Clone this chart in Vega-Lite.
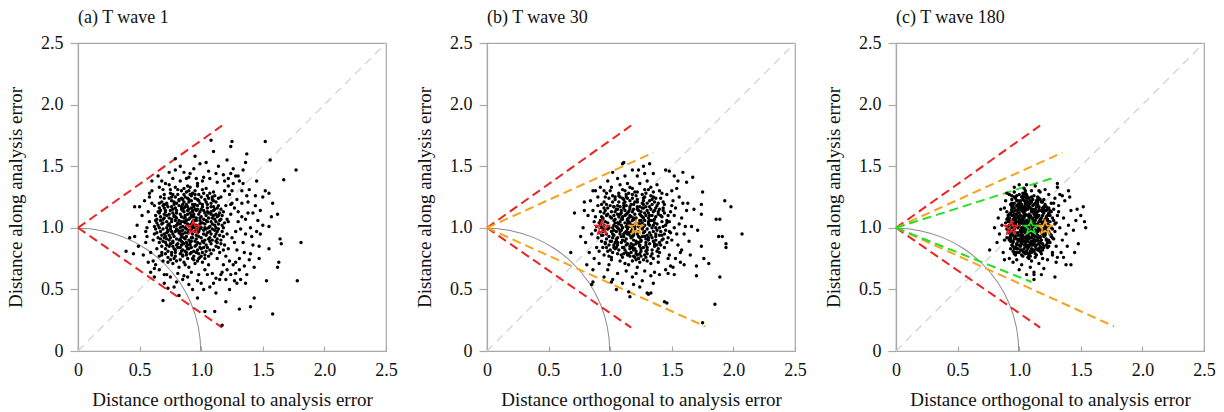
{
"$schema":"https://vega.github.io/schema/vega-lite/v6.json",
"background":"white",
"padding":{"left":5,"top":8,"right":5,"bottom":0},
"spacing":101,
"bounds":"flush",
"config":{
 "view":{"stroke":"#a8a8a8","strokeWidth":1.2},
 "axis":{"domainColor":"#a8a8a8","domainWidth":1.2,"tickColor":"#a8a8a8","tickWidth":1.2,"labelFont":"Liberation Serif","labelFontSize":18,"labelColor":"#111","titleFont":"Liberation Serif","titleFontSize":19,"titleFontWeight":"normal","titleColor":"#111","grid":false,"labelFlush":false,"labelOverlap":false},
 "axisX":{"tickSize":-5,"labelPadding":15,"titlePadding":11},
 "axisY":{"tickSize":8,"labelPadding":7,"titlePadding":15},
 "title":{"font":"Liberation Serif","fontSize":18,"fontWeight":"normal","anchor":"start","frame":"group","offset":7,"color":"#111"}
},
"datasets":{
 "guides":[{"kind":"diagonal","x":0,"y":0,"x2":2.5,"y2":2.5},{"kind":"circle","x":0,"y":0,"r":1,"r2":0.992}],
 "bounds":[
  {"panel":"a","wave":"wave 1","x":0,"y":1,"x2":1.17,"y2":1.83},
  {"panel":"a","wave":"wave 1","x":0,"y":1,"x2":1.17,"y2":0.19},
  {"panel":"b","wave":"wave 1","x":0,"y":1,"x2":1.17,"y2":1.83},
  {"panel":"b","wave":"wave 1","x":0,"y":1,"x2":1.17,"y2":0.19},
  {"panel":"b","wave":"wave 30","x":0,"y":1,"x2":1.35,"y2":1.61},
  {"panel":"b","wave":"wave 30","x":0,"y":1,"x2":1.77,"y2":0.2},
  {"panel":"c","wave":"wave 1","x":0,"y":1,"x2":1.17,"y2":1.83},
  {"panel":"c","wave":"wave 1","x":0,"y":1,"x2":1.17,"y2":0.19},
  {"panel":"c","wave":"wave 30","x":0,"y":1,"x2":1.35,"y2":1.61},
  {"panel":"c","wave":"wave 30","x":0,"y":1,"x2":1.77,"y2":0.2},
  {"panel":"c","wave":"wave 180","x":0,"y":1,"x2":1.29,"y2":1.41},
  {"panel":"c","wave":"wave 180","x":0,"y":1,"x2":1.1,"y2":0.56}
 ],
 "stars":[
  {"panel":"a","wave":"wave 1","x":0.935,"y":1},
  {"panel":"b","wave":"wave 1","x":0.935,"y":1},
  {"panel":"b","wave":"wave 30","x":1.21,"y":1},
  {"panel":"c","wave":"wave 1","x":0.935,"y":1},
  {"panel":"c","wave":"wave 180","x":1.095,"y":1},
  {"panel":"c","wave":"wave 30","x":1.21,"y":1}
 ],
 "pa":[
{"x":0.91,"y":1.02},{"x":0.85,"y":0.95},{"x":0.78,"y":1.10},{"x":1.02,"y":0.88},{"x":0.95,"y":1.15},{"x":0.70,"y":0.92},{"x":0.88,"y":0.80},{"x":1.08,"y":1.05},{"x":0.82,"y":1.22},{"x":0.97,"y":0.73},
{"x":0.74,"y":1.03},{"x":1.12,"y":0.95},{"x":0.93,"y":1.28},{"x":0.66,"y":1.12},{"x":1.05,"y":1.19},{"x":0.80,"y":0.86},{"x":0.99,"y":0.99},{"x":0.87,"y":1.08},{"x":0.76,"y":0.78},{"x":1.15,"y":1.12},
{"x":0.90,"y":0.68},{"x":0.69,"y":0.99},{"x":1.01,"y":1.31},{"x":0.84,"y":1.15},{"x":1.10,"y":0.82},{"x":0.72,"y":1.20},{"x":0.96,"y":0.91},{"x":0.79,"y":0.97},{"x":1.18,"y":1.00},{"x":0.86,"y":0.72},
{"x":0.63,"y":1.06},{"x":1.04,"y":1.10},{"x":0.92,"y":0.84},{"x":0.75,"y":1.28},{"x":1.13,"y":0.75},{"x":0.81,"y":1.03},{"x":0.98,"y":1.22},{"x":0.68,"y":0.85},{"x":1.07,"y":0.92},{"x":0.89,"y":1.17},
{"x":0.77,"y":0.89},{"x":1.20,"y":1.18},{"x":0.94,"y":0.77},{"x":0.71,"y":1.14},{"x":1.03,"y":1.00},{"x":0.83,"y":0.79},{"x":0.96,"y":1.06},{"x":0.64,"y":0.96},{"x":1.11,"y":1.26},{"x":0.88,"y":0.93},
{"x":0.73,"y":0.72},{"x":1.00,"y":0.83},{"x":0.79,"y":1.33},{"x":1.16,"y":0.90},{"x":0.91,"y":1.12},{"x":0.67,"y":1.25},{"x":1.06,"y":0.70},{"x":0.85,"y":1.01},{"x":0.97,"y":1.36},{"x":0.74,"y":0.94},
{"x":1.09,"y":1.08},{"x":0.82,"y":0.68},{"x":0.95,"y":0.97},{"x":0.70,"y":1.08},{"x":1.14,"y":1.03},{"x":0.87,"y":1.25},{"x":0.78,"y":0.83},{"x":1.02,"y":1.14},{"x":0.92,"y":0.89},{"x":0.61,"y":0.90},
{"x":1.19,"y":0.86},{"x":0.84,"y":1.09},{"x":0.99,"y":0.76},{"x":0.76,"y":1.17},{"x":1.05,"y":0.96},{"x":0.89,"y":1.34},{"x":0.66,"y":0.77},{"x":1.12,"y":1.21},{"x":0.93,"y":1.05},{"x":0.80,"y":0.91},
{"x":1.00,"y":1.25},{"x":0.72,"y":1.00},{"x":1.08,"y":0.79},{"x":0.86,"y":0.87},{"x":0.97,"y":1.18},{"x":0.69,"y":1.31},{"x":1.17,"y":0.97},{"x":0.83,"y":0.74},{"x":0.94,"y":1.09},{"x":0.75,"y":0.87},
{"x":1.04,"y":0.86},{"x":0.90,"y":1.21},{"x":0.65,"y":1.02},{"x":1.10,"y":1.14},{"x":0.81,"y":1.27},{"x":0.98,"y":0.93},{"x":0.73,"y":0.81},{"x":1.13,"y":1.09},{"x":0.88,"y":0.99},{"x":0.77,"y":1.12},
{"x":1.01,"y":0.72},{"x":0.92,"y":1.16},{"x":0.68,"y":0.94},{"x":1.07,"y":1.28},{"x":0.85,"y":0.82},{"x":0.96,"y":1.02},{"x":0.62,"y":1.18},{"x":1.15,"y":0.80},{"x":0.79,"y":1.06},{"x":1.03,"y":1.23},
{"x":0.91,"y":0.79},{"x":0.74,"y":1.24},{"x":1.09,"y":0.99},{"x":0.86,"y":1.13},{"x":0.99,"y":0.87},{"x":0.71,"y":0.88},{"x":1.21,"y":1.07},{"x":0.82,"y":0.96},{"x":0.95,"y":1.30},{"x":0.67,"y":1.09},
{"x":1.06,"y":0.91},{"x":0.89,"y":0.75},{"x":0.78,"y":1.19},{"x":1.11,"y":1.02},{"x":0.93,"y":0.95},{"x":0.64,"y":0.83},{"x":1.00,"y":1.09},{"x":0.84,"y":1.30},{"x":0.76,"y":0.97},{"x":1.14,"y":1.24},
{"x":0.97,"y":0.82},{"x":0.70,"y":1.16},{"x":1.05,"y":1.05},{"x":0.87,"y":0.91},{"x":0.80,"y":1.14},{"x":1.18,"y":0.93},{"x":0.92,"y":1.26},{"x":0.73,"y":0.76},{"x":1.02,"y":0.98},{"x":0.85,"y":1.19},
{"x":0.98,"y":1.11},{"x":0.66,"y":1.00},{"x":1.08,"y":0.87},{"x":0.90,"y":1.07},{"x":0.77,"y":0.71},{"x":1.16,"y":1.15},{"x":0.83,"y":1.00},{"x":0.95,"y":0.71},{"x":0.72,"y":1.10},{"x":1.04,"y":1.32},
{"x":0.88,"y":0.85},{"x":0.79,"y":1.25},{"x":1.12,"y":0.89},{"x":0.94,"y":1.00},{"x":0.68,"y":1.21},{"x":1.01,"y":0.80},{"x":0.86,"y":1.05},{"x":0.97,"y":0.96},{"x":0.75,"y":0.92},{"x":1.10,"y":1.17},
{"x":0.81,"y":0.84},{"x":0.91,"y":1.33},{"x":0.63,"y":0.99},{"x":1.07,"y":1.01},{"x":0.84,"y":0.93},{"x":0.99,"y":1.20},{"x":0.71,"y":0.79},{"x":1.13,"y":0.97},{"x":0.89,"y":1.11},{"x":0.78,"y":1.01},
{"x":1.03,"y":0.75},{"x":0.93,"y":1.14},{"x":0.69,"y":1.04},{"x":1.17,"y":1.10},{"x":0.82,"y":1.18},{"x":0.96,"y":0.86},{"x":0.74,"y":1.35},{"x":1.06,"y":1.12},{"x":0.87,"y":0.70},{"x":0.80,"y":0.99},
{"x":1.09,"y":1.23},{"x":0.92,"y":0.92},{"x":0.65,"y":1.13},{"x":1.00,"y":1.04},{"x":0.85,"y":0.77},{"x":0.98,"y":1.27},{"x":0.76,"y":1.07},{"x":1.14,"y":0.84},{"x":0.90,"y":0.98},{"x":0.72,"y":0.86},
{"x":1.05,"y":1.16},{"x":0.83,"y":1.11},{"x":0.94,"y":0.81},{"x":0.67,"y":0.91},{"x":1.19,"y":1.04},{"x":0.88,"y":1.29},{"x":0.79,"y":0.80},{"x":1.02,"y":1.07},{"x":0.91,"y":0.88},{"x":0.70,"y":1.27},
{"x":1.11,"y":0.93},{"x":0.86,"y":1.16},{"x":0.97,"y":1.01},{"x":0.75,"y":0.74},{"x":1.08,"y":1.20},{"x":0.82,"y":0.90},{"x":0.95,"y":1.24},{"x":0.64,"y":1.07},{"x":1.04,"y":0.94},{"x":0.89,"y":0.83},
{"x":0.77,"y":1.15},{"x":1.15,"y":1.06},{"x":0.93,"y":1.19},{"x":0.73,"y":0.98},{"x":1.01,"y":0.89},{"x":0.84,"y":1.24},{"x":0.99,"y":1.13},{"x":0.68,"y":0.80},{"x":1.12,"y":1.11},{"x":0.87,"y":0.96},
{"x":0.80,"y":1.20},{"x":1.06,"y":0.77},{"x":0.92,"y":1.03},{"x":0.71,"y":0.93},{"x":1.10,"y":1.29},{"x":0.85,"y":0.88},{"x":0.96,"y":1.14},{"x":0.78,"y":0.75},{"x":1.03,"y":1.03},{"x":0.90,"y":1.23},
{"x":0.66,"y":1.16},{"x":1.18,"y":0.82},{"x":0.81,"y":1.04},{"x":0.95,"y":0.85},{"x":0.74,"y":1.11},{"x":1.07,"y":0.97},{"x":0.88,"y":1.06},{"x":0.97,"y":1.34},{"x":0.69,"y":0.73},{"x":1.13,"y":1.16},
{"x":0.83,"y":0.97},{"x":0.94,"y":0.74},{"x":0.76,"y":1.22},{"x":1.00,"y":1.15},{"x":0.87,"y":0.81},{"x":1.09,"y":0.90},{"x":0.79,"y":1.09},{"x":0.93,"y":1.01},{"x":0.62,"y":0.95},{"x":1.16,"y":1.25},
{"x":0.85,"y":1.23},{"x":0.98,"y":0.79},{"x":0.72,"y":1.05},{"x":1.05,"y":1.26},{"x":0.90,"y":0.90},{"x":0.80,"y":0.73},{"x":1.11,"y":1.07},{"x":0.86,"y":1.32},{"x":0.96,"y":0.99},{"x":0.70,"y":1.19},
{"x":1.02,"y":0.84},{"x":0.89,"y":1.14},{"x":0.77,"y":0.85},{"x":1.14,"y":0.99},{"x":0.92,"y":1.10},{"x":0.67,"y":1.06},{"x":1.08,"y":1.13},{"x":0.84,"y":0.86},{"x":0.99,"y":1.03},{"x":0.75,"y":1.31},
{"x":1.04,"y":0.81},{"x":0.91,"y":1.27},
{"x":0.87,"y":1.04},{"x":0.81,"y":0.98},{"x":0.93,"y":0.92},{"x":0.76,"y":1.05},{"x":0.99,"y":1.08},{"x":0.84,"y":0.89},{"x":0.72,"y":0.96},{"x":1.06,"y":1.00},{"x":0.90,"y":1.15},{"x":0.79,"y":0.82},
{"x":0.95,"y":1.19},{"x":0.68,"y":1.03},{"x":1.03,"y":0.90},{"x":0.86,"y":1.21},{"x":0.74,"y":0.90},{"x":1.10,"y":1.10},{"x":0.92,"y":0.80},{"x":0.80,"y":1.12},{"x":0.97,"y":0.88},{"x":0.70,"y":1.11},
{"x":1.01,"y":1.17},{"x":0.83,"y":0.84},{"x":0.89,"y":1.03},{"x":0.77,"y":1.27},{"x":1.12,"y":0.85},{"x":0.94,"y":1.11},{"x":0.66,"y":0.88},{"x":1.04,"y":1.21},{"x":0.85,"y":0.78},{"x":0.91,"y":0.97},
{"x":0.73,"y":1.17},{"x":1.08,"y":0.95},{"x":0.82,"y":1.06},{"x":0.98,"y":0.75},{"x":0.69,"y":1.18},{"x":1.14,"y":1.18},{"x":0.88,"y":0.88},{"x":0.75,"y":0.99},{"x":1.00,"y":1.00},{"x":0.86,"y":1.27},
{"x":0.63,"y":1.10},{"x":1.07,"y":0.82},{"x":0.94,"y":1.03},{"x":0.78,"y":0.93},{"x":1.16,"y":1.07},{"x":0.90,"y":1.30},{"x":0.71,"y":0.83},{"x":1.02,"y":0.95},{"x":0.84,"y":1.17},{"x":0.97,"y":1.23},
{"x":0.67,"y":0.97},{"x":1.11,"y":0.98},{"x":0.89,"y":0.86},{"x":0.79,"y":1.16},{"x":1.05,"y":1.13},{"x":0.93,"y":0.75},{"x":0.74,"y":1.08},{"x":1.09,"y":1.25},{"x":0.83,"y":1.03},{"x":0.96,"y":0.94},
{"x":0.70,"y":1.24},{"x":1.13,"y":0.91},{"x":0.87,"y":1.10},{"x":0.76,"y":0.80},{"x":1.01,"y":1.04},{"x":0.92,"y":1.22},{"x":0.65,"y":0.92},{"x":1.18,"y":1.13},{"x":0.80,"y":1.08},{"x":0.99,"y":0.84},
{"x":0.73,"y":1.02},{"x":1.06,"y":1.08},{"x":0.85,"y":0.98},{"x":0.95,"y":1.27},{"x":0.68,"y":0.78},{"x":1.12,"y":1.05},{"x":0.88,"y":1.19},{"x":0.77,"y":0.95},{"x":1.03,"y":0.78},{"x":0.91,"y":1.08},
{"x":0.71,"y":1.13},{"x":1.15,"y":0.94},{"x":0.82,"y":1.23},{"x":0.98,"y":1.01},{"x":0.64,"y":1.04},{"x":1.08,"y":1.17},{"x":0.86,"y":0.92},{"x":0.78,"y":1.21},{"x":1.00,"y":0.92},{"x":0.93,"y":1.13},
{"x":0.72,"y":0.91},{"x":1.10,"y":1.22},{"x":0.84,"y":0.81},{"x":0.96,"y":1.08},{"x":0.69,"y":1.07},{"x":1.13,"y":0.88},{"x":0.89,"y":0.96},{"x":0.75,"y":1.14},{"x":1.04,"y":1.06},{"x":0.90,"y":0.83},
{"x":0.81,"y":1.31},{"x":1.07,"y":0.89},{"x":0.94,"y":1.17},{"x":0.66,"y":1.20},{"x":1.17,"y":1.02},{"x":0.83,"y":0.91},{"x":0.97,"y":1.15},{"x":0.74,"y":0.85},{"x":1.02,"y":1.28},{"x":0.87,"y":1.00},
{"x":0.79,"y":0.77},{"x":1.11,"y":1.15},{"x":0.92,"y":0.99},{"x":0.70,"y":0.95},{"x":1.05,"y":0.84},{"x":0.85,"y":1.14},{"x":0.99,"y":1.06},{"x":0.76,"y":1.25},{"x":1.14,"y":1.10},{"x":0.88,"y":0.78},
{"x":0.80,"y":1.02},{"x":1.03,"y":1.12},{"x":0.95,"y":0.89},{"x":0.67,"y":1.14},{"x":1.09,"y":1.03},{"x":0.86,"y":1.08},{"x":0.73,"y":0.97},{"x":1.01,"y":1.19},{"x":0.91,"y":0.86},{"x":0.78,"y":1.09},
{"x":1.16,"y":0.87},{"x":0.94,"y":1.06},{"x":0.62,"y":1.01},{"x":1.06,"y":1.24},{"x":0.83,"y":0.95},{"x":0.98,"y":0.97},{"x":0.72,"y":1.19},{"x":1.12,"y":1.00},{"x":0.89,"y":1.24},{"x":0.77,"y":0.88},
{"x":1.00,"y":0.77},{"x":0.93,"y":1.09},{"x":0.69,"y":0.89},{"x":1.08,"y":1.11},{"x":0.84,"y":1.05},{"x":0.96,"y":0.80},{"x":0.75,"y":1.01},{"x":1.04,"y":0.99},{"x":0.87,"y":1.17},{"x":0.81,"y":0.87},
{"x":1.22,"y":1.05},{"x":1.25,"y":0.92},{"x":1.20,"y":0.77},{"x":1.27,"y":1.16},{"x":1.23,"y":1.27},{"x":1.29,"y":0.82},{"x":1.21,"y":0.66},{"x":1.26,"y":1.36},{"x":1.32,"y":0.99},{"x":1.30,"y":1.13},
{"x":1.34,"y":0.88},{"x":1.28,"y":0.63},{"x":1.33,"y":1.30},{"x":1.36,"y":1.07},{"x":1.31,"y":0.75},{"x":1.38,"y":1.21},{"x":1.35,"y":0.69},{"x":1.41,"y":0.93},{"x":1.24,"y":1.44},{"x":1.39,"y":1.31},
{"x":1.27,"y":0.57},{"x":1.42,"y":1.12},{"x":1.37,"y":0.62},{"x":1.20,"y":0.58},{"x":1.45,"y":0.97},{"x":1.22,"y":1.34},{"x":1.29,"y":1.23},{"x":1.34,"y":1.47},{"x":1.26,"y":0.70},{"x":1.40,"y":0.79},
{"x":1.44,"y":1.26},{"x":1.31,"y":1.38},{"x":1.48,"y":1.14},{"x":1.36,"y":0.55},{"x":1.23,"y":0.73},{"x":1.47,"y":0.85},{"x":1.33,"y":1.09},{"x":1.50,"y":1.02},{"x":1.28,"y":1.42},{"x":1.21,"y":0.95},
{"x":1.24,"y":1.19},{"x":1.19,"y":1.30},{"x":1.18,"y":0.70},{"x":1.19,"y":1.38},{"x":1.16,"y":0.62},
{"x":0.58,"y":1.05},{"x":0.56,"y":0.93},{"x":0.60,"y":1.20},{"x":0.59,"y":0.80},{"x":0.57,"y":1.13},{"x":0.61,"y":0.73},{"x":0.55,"y":0.97},{"x":0.60,"y":1.30},{"x":0.62,"y":0.67},{"x":0.58,"y":1.25},
{"x":0.66,"y":0.66},{"x":0.70,"y":0.62},{"x":0.75,"y":0.60},{"x":0.81,"y":0.63},{"x":0.86,"y":0.61},{"x":0.92,"y":0.64},{"x":0.98,"y":0.62},{"x":1.03,"y":0.66},{"x":1.09,"y":0.63},{"x":1.12,"y":0.59},
{"x":0.71,"y":1.36},{"x":0.77,"y":1.40},{"x":0.83,"y":1.38},{"x":0.90,"y":1.41},{"x":0.96,"y":1.40},{"x":1.01,"y":1.38},{"x":1.07,"y":1.40},{"x":1.13,"y":1.37},{"x":0.79,"y":1.47},{"x":0.94,"y":1.48},
{"x":1.04,"y":1.53},{"x":1.12,"y":1.44},{"x":0.66,"y":1.33},{"x":0.86,"y":1.45},{"x":0.97,"y":0.57},{"x":0.80,"y":0.56},{"x":0.90,"y":0.54},{"x":1.10,"y":0.55},{"x":1.02,"y":0.50},{"x":0.73,"y":0.51},
{"x":0.52,"y":1.10},{"x":0.55,"y":0.88},{"x":0.48,"y":1.02},{"x":0.58,"y":1.28},{"x":0.57,"y":0.72},{"x":0.60,"y":1.38},{"x":0.53,"y":0.78},{"x":0.59,"y":0.64},{"x":0.50,"y":1.17},{"x":0.56,"y":1.00},
{"x":0.46,"y":0.93},{"x":0.62,"y":0.60},{"x":0.65,"y":1.42},{"x":0.54,"y":1.22},{"x":0.49,"y":0.85},
{"x":1.25,"y":1.30},{"x":1.28,"y":0.72},{"x":1.30,"y":1.05},{"x":1.24,"y":0.62},{"x":1.33,"y":1.20},{"x":1.27,"y":0.88},{"x":1.36,"y":0.95},{"x":1.22,"y":1.40},{"x":1.31,"y":0.66},{"x":1.38,"y":1.12},
{"x":1.26,"y":1.48},{"x":1.35,"y":0.80},{"x":1.29,"y":0.55},{"x":1.40,"y":1.00},{"x":1.23,"y":0.50},{"x":1.34,"y":1.36},{"x":1.42,"y":0.86},{"x":1.37,"y":1.26},{"x":1.44,"y":1.18},{"x":1.32,"y":0.58},
{"x":1.39,"y":0.74},{"x":1.21,"y":1.55},{"x":1.46,"y":1.06},{"x":1.30,"y":1.42},{"x":1.43,"y":0.68},{"x":1.25,"y":1.20},{"x":1.28,"y":0.97},{"x":1.22,"y":0.83},{"x":1.24,"y":1.11},
{"x":0.70,"y":0.55},{"x":0.78,"y":0.52},{"x":0.85,"y":0.58},{"x":0.93,"y":0.50},{"x":1.00,"y":0.55},{"x":1.07,"y":0.52},{"x":1.15,"y":0.58},{"x":0.82,"y":0.45},{"x":0.97,"y":0.43},{"x":1.12,"y":0.47},
{"x":0.74,"y":1.45},{"x":0.83,"y":1.50},{"x":0.91,"y":1.44},{"x":0.99,"y":1.52},{"x":1.06,"y":1.46},{"x":1.14,"y":1.50},{"x":0.79,"y":1.56},{"x":0.95,"y":1.58},{"x":1.10,"y":1.62},{"x":0.88,"y":1.40},
{"x":1.02,"y":1.41},{"x":1.18,"y":1.43},{"x":0.68,"y":1.38},{"x":0.72,"y":0.62},{"x":0.89,"y":0.60},{"x":1.05,"y":0.62},{"x":1.17,"y":0.64},{"x":0.63,"y":0.70},
{"x":1.81,"y":0.88},{"x":1.77,"y":1.47},{"x":1.78,"y":0.57},{"x":1.67,"y":1.39},{"x":1.58,"y":0.30},{"x":1.52,"y":1.70},{"x":1.56,"y":1.55},{"x":1.62,"y":1.11},{"x":1.64,"y":0.91},{"x":1.65,"y":0.87},
{"x":1.62,"y":0.68},{"x":1.63,"y":0.72},{"x":1.55,"y":1.01},{"x":1.57,"y":1.09},{"x":1.55,"y":0.83},{"x":1.53,"y":0.57},{"x":1.43,"y":0.43},{"x":1.40,"y":0.36},{"x":1.31,"y":0.34},{"x":1.24,"y":1.66},
{"x":1.25,"y":1.70},{"x":1.37,"y":1.60},{"x":1.36,"y":1.53},{"x":1.11,"y":0.32},{"x":1.03,"y":0.32},{"x":0.69,"y":0.41},{"x":0.39,"y":0.81},{"x":0.45,"y":0.79},{"x":0.42,"y":0.92},{"x":0.46,"y":1.17},
{"x":1.08,"y":1.71},{"x":1.17,"y":0.21},{"x":1.50,"y":1.25},{"x":1.48,"y":0.95},{"x":1.52,"y":1.30},{"x":1.47,"y":0.75},{"x":1.58,"y":1.20},{"x":1.45,"y":1.38},{"x":1.20,"y":0.40},{"x":1.55,"y":1.28}
 ],
 "pb":[
{"x":1.18,"y":0.99},{"x":1.10,"y":1.07},{"x":1.25,"y":0.90},{"x":1.03,"y":0.94},{"x":1.31,"y":1.12},{"x":1.14,"y":0.78},{"x":0.97,"y":1.10},{"x":1.22,"y":1.21},{"x":1.36,"y":0.85},{"x":1.07,"y":1.26},
{"x":1.28,"y":1.02},{"x":0.93,"y":0.89},{"x":1.16,"y":1.15},{"x":1.40,"y":1.00},{"x":1.01,"y":0.74},{"x":1.20,"y":0.83},{"x":1.12,"y":1.30},{"x":1.34,"y":1.23},{"x":0.95,"y":1.02},{"x":1.24,"y":0.72},
{"x":1.08,"y":0.97},{"x":1.43,"y":1.14},{"x":1.19,"y":1.08},{"x":1.00,"y":1.18},{"x":1.30,"y":0.79},{"x":1.13,"y":0.91},{"x":1.37,"y":0.93},{"x":0.91,"y":0.96},{"x":1.26,"y":1.27},{"x":1.05,"y":0.84},
{"x":1.21,"y":1.04},{"x":1.46,"y":0.88},{"x":1.09,"y":1.14},{"x":1.33,"y":1.06},{"x":0.98,"y":0.81},{"x":1.15,"y":0.70},{"x":1.27,"y":1.16},{"x":1.04,"y":1.23},{"x":1.39,"y":0.77},{"x":1.17,"y":0.87},
{"x":0.94,"y":1.07},{"x":1.23,"y":0.97},{"x":1.11,"y":1.20},{"x":1.35,"y":1.29},{"x":1.02,"y":0.92},{"x":1.29,"y":0.86},{"x":1.14,"y":1.03},{"x":1.42,"y":1.05},{"x":0.96,"y":1.25},{"x":1.20,"y":0.76},
{"x":1.07,"y":1.09},{"x":1.32,"y":0.96},{"x":1.18,"y":1.32},{"x":0.99,"y":0.86},{"x":1.25,"y":1.10},{"x":1.12,"y":0.82},{"x":1.38,"y":1.18},{"x":1.06,"y":1.00},{"x":1.22,"y":0.68},{"x":0.92,"y":1.13},
{"x":1.30,"y":1.20},{"x":1.16,"y":0.94},{"x":1.44,"y":0.95},{"x":1.03,"y":1.06},{"x":1.27,"y":0.74},{"x":1.10,"y":1.24},{"x":1.35,"y":0.89},{"x":0.97,"y":0.95},{"x":1.19,"y":1.19},{"x":1.24,"y":0.85},
{"x":1.08,"y":0.73},{"x":1.41,"y":1.24},{"x":1.13,"y":1.11},{"x":1.00,"y":1.30},{"x":1.31,"y":1.03},{"x":1.17,"y":0.80},{"x":0.89,"y":1.01},{"x":1.26,"y":0.93},{"x":1.05,"y":1.15},{"x":1.37,"y":1.09},
{"x":1.21,"y":1.26},{"x":0.95,"y":0.78},{"x":1.15,"y":1.05},{"x":1.33,"y":0.71},{"x":1.09,"y":0.88},{"x":1.47,"y":1.10},{"x":1.02,"y":1.21},{"x":1.28,"y":1.31},{"x":1.12,"y":0.96},{"x":1.39,"y":0.83},
{"x":1.19,"y":0.90},{"x":0.93,"y":1.19},{"x":1.23,"y":1.14},{"x":1.06,"y":0.79},{"x":1.34,"y":1.00},{"x":1.16,"y":1.22},{"x":0.98,"y":1.04},{"x":1.29,"y":0.81},{"x":1.11,"y":1.16},{"x":1.43,"y":0.91},
{"x":1.04,"y":0.88},{"x":1.25,"y":1.06},{"x":1.18,"y":0.73},{"x":1.36,"y":1.21},{"x":0.90,"y":0.92},{"x":1.20,"y":1.11},{"x":1.07,"y":1.28},{"x":1.32,"y":0.87},{"x":1.14,"y":0.99},{"x":1.40,"y":1.15},
{"x":1.01,"y":0.97},{"x":1.27,"y":1.24},{"x":1.10,"y":0.76},{"x":1.45,"y":1.02},{"x":0.96,"y":1.14},{"x":1.22,"y":0.95},{"x":1.08,"y":1.05},{"x":1.35,"y":0.75},{"x":1.17,"y":1.09},{"x":0.94,"y":0.84},
{"x":1.30,"y":1.14},{"x":1.13,"y":1.27},{"x":1.38,"y":0.98},{"x":1.03,"y":1.10},{"x":1.24,"y":0.79},{"x":1.19,"y":1.02},{"x":0.99,"y":0.70},{"x":1.33,"y":1.26},{"x":1.11,"y":0.93},{"x":1.41,"y":0.86},
{"x":1.06,"y":1.18},{"x":1.26,"y":0.99},{"x":1.15,"y":1.13},{"x":0.92,"y":1.06},{"x":1.29,"y":0.91},{"x":1.21,"y":0.74},{"x":1.44,"y":1.19},{"x":1.05,"y":0.91},{"x":1.36,"y":1.04},{"x":1.12,"y":1.21},
{"x":0.97,"y":1.28},{"x":1.23,"y":0.88},{"x":1.09,"y":1.02},{"x":1.31,"y":1.08},{"x":1.18,"y":0.84},{"x":1.48,"y":0.97},{"x":1.02,"y":0.80},{"x":1.27,"y":1.19},{"x":1.14,"y":0.87},{"x":1.39,"y":1.11},
{"x":0.95,"y":0.99},{"x":1.20,"y":1.29},{"x":1.08,"y":0.95},{"x":1.34,"y":0.82},{"x":1.16,"y":1.17},{"x":1.00,"y":1.09},{"x":1.28,"y":0.97},{"x":1.12,"y":0.71},{"x":1.42,"y":1.28},{"x":1.04,"y":1.25},
{"x":1.25,"y":1.13},{"x":1.19,"y":0.96},{"x":0.91,"y":0.81},{"x":1.32,"y":1.17},{"x":1.10,"y":1.00},{"x":1.37,"y":0.90},{"x":1.06,"y":0.86},{"x":1.22,"y":1.17},{"x":1.46,"y":1.06},{"x":0.98,"y":1.16},
{"x":1.30,"y":0.73},{"x":1.15,"y":1.01},{"x":1.40,"y":0.80},{"x":1.03,"y":1.02},{"x":1.26,"y":1.09},{"x":1.13,"y":1.25},{"x":0.94,"y":0.94},{"x":1.21,"y":0.81},{"x":1.35,"y":1.13},{"x":1.09,"y":1.12},
{"x":1.44,"y":0.84},{"x":1.17,"y":0.92},{"x":1.01,"y":1.13},{"x":1.29,"y":1.28},{"x":1.11,"y":0.84},{"x":1.38,"y":1.03},{"x":1.23,"y":1.03},{"x":0.96,"y":0.88},{"x":1.07,"y":1.21},{"x":1.33,"y":0.94},
{"x":1.18,"y":1.24},{"x":1.49,"y":1.13},{"x":1.05,"y":0.97},{"x":1.27,"y":0.84},{"x":1.14,"y":1.07},{"x":0.88,"y":1.09},{"x":1.24,"y":0.92},{"x":1.41,"y":0.97},{"x":1.10,"y":0.90},{"x":1.31,"y":1.31},
{"x":1.20,"y":1.07},{"x":0.99,"y":0.77},{"x":1.36,"y":0.87},{"x":1.16,"y":0.77},{"x":1.03,"y":1.17},{"x":1.28,"y":1.06},{"x":1.12,"y":1.14},{"x":1.43,"y":1.21},{"x":0.93,"y":1.00},{"x":1.25,"y":0.77},
{"x":1.08,"y":1.11},{"x":1.34,"y":1.19},{"x":1.19,"y":0.86},{"x":1.01,"y":0.89},{"x":1.30,"y":0.99},{"x":1.15,"y":1.28},{"x":1.39,"y":0.72},{"x":1.06,"y":1.04},{"x":1.22,"y":1.23},{"x":0.97,"y":0.91},
{"x":1.47,"y":0.92},{"x":1.13,"y":0.80},{"x":1.32,"y":1.10},{"x":1.18,"y":1.13},{"x":1.04,"y":0.83},{"x":1.26,"y":1.00},{"x":1.10,"y":1.31},{"x":1.37,"y":1.16},{"x":0.95,"y":1.21},{"x":1.21,"y":0.89},
{"x":1.09,"y":0.98},{"x":1.42,"y":1.09},{"x":1.16,"y":1.04},{"x":1.29,"y":0.76},{"x":1.02,"y":1.00},{"x":1.35,"y":1.25},{"x":1.14,"y":0.95},{"x":1.24,"y":1.17},
{"x":1.17,"y":1.02},{"x":1.11,"y":0.95},{"x":1.24,"y":1.06},{"x":1.05,"y":1.01},{"x":1.30,"y":0.94},{"x":1.14,"y":1.12},{"x":0.99,"y":0.93},{"x":1.21,"y":0.87},{"x":1.35,"y":1.06},{"x":1.08,"y":1.17},
{"x":1.27,"y":1.08},{"x":0.96,"y":1.05},{"x":1.16,"y":0.85},{"x":1.40,"y":0.94},{"x":1.03,"y":0.86},{"x":1.22,"y":1.15},{"x":1.12,"y":1.04},{"x":1.33,"y":1.15},{"x":0.94,"y":0.97},{"x":1.25,"y":0.81},
{"x":1.09,"y":0.93},{"x":1.43,"y":1.01},{"x":1.19,"y":1.15},{"x":1.01,"y":1.08},{"x":1.29,"y":0.88},{"x":1.13,"y":0.97},{"x":1.37,"y":1.00},{"x":0.92,"y":1.02},{"x":1.26,"y":1.20},{"x":1.06,"y":0.92},
{"x":1.20,"y":0.99},{"x":1.45,"y":0.98},{"x":1.10,"y":1.09},{"x":1.32,"y":1.02},{"x":1.00,"y":0.89},{"x":1.15,"y":0.79},{"x":1.28,"y":1.12},{"x":1.04,"y":1.13},{"x":1.38,"y":0.86},{"x":1.18,"y":0.93},
{"x":0.95,"y":1.12},{"x":1.23,"y":1.01},{"x":1.11,"y":1.23},{"x":1.34,"y":1.10},{"x":1.03,"y":0.98},{"x":1.30,"y":0.84},{"x":1.15,"y":1.08},{"x":1.41,"y":1.10},{"x":0.97,"y":1.19},{"x":1.21,"y":0.79},
{"x":1.07,"y":1.03},{"x":1.31,"y":0.92},{"x":1.18,"y":1.27},{"x":1.00,"y":0.82},{"x":1.26,"y":1.04},{"x":1.13,"y":0.86},{"x":1.36,"y":1.14},{"x":1.07,"y":0.99},{"x":1.23,"y":0.75},{"x":0.93,"y":1.09},
{"x":1.29,"y":1.17},{"x":1.17,"y":0.97},{"x":1.42,"y":0.90},{"x":1.04,"y":1.04},{"x":1.28,"y":0.78},{"x":1.11,"y":1.18},{"x":1.34,"y":0.92},{"x":0.98,"y":0.99},{"x":1.20,"y":1.21},{"x":1.25,"y":0.89},
{"x":1.09,"y":0.78},{"x":1.39,"y":1.20},{"x":1.14,"y":1.06},{"x":1.02,"y":1.26},{"x":1.32,"y":1.06},{"x":1.16,"y":0.83},{"x":0.91,"y":1.04},{"x":1.27,"y":0.96},{"x":1.06,"y":1.11},{"x":1.36,"y":1.07},
{"x":1.22,"y":1.29},{"x":0.97,"y":0.84},{"x":1.16,"y":1.01},{"x":1.33,"y":0.77},{"x":1.10,"y":0.84},{"x":1.44,"y":1.12},{"x":1.03,"y":1.17},{"x":1.28,"y":1.25},{"x":1.13,"y":1.01},{"x":1.38,"y":0.81},
{"x":1.19,"y":0.94},{"x":0.95,"y":1.16},{"x":1.24,"y":1.11},{"x":1.07,"y":0.82},{"x":1.35,"y":0.97},{"x":1.17,"y":1.19},{"x":0.99,"y":1.00},{"x":1.30,"y":0.82},{"x":1.12,"y":1.10},{"x":1.42,"y":0.94},
{"x":1.05,"y":0.90},{"x":1.24,"y":1.03},{"x":1.19,"y":0.77},{"x":1.37,"y":1.24},{"x":0.93,"y":0.94},{"x":1.21,"y":1.08},{"x":1.08,"y":1.25},{"x":1.31,"y":0.90},{"x":1.15,"y":0.96},{"x":1.39,"y":1.13},
{"x":1.02,"y":0.95},{"x":1.26,"y":1.16},{"x":1.11,"y":0.79},{"x":1.46,"y":1.04},{"x":0.98,"y":1.11},{"x":1.23,"y":0.93},{"x":1.09,"y":1.07},{"x":1.34,"y":0.79},{"x":1.18,"y":1.06},{"x":0.96,"y":0.87},
{"x":1.29,"y":1.10},{"x":1.14,"y":1.24},{"x":1.37,"y":0.95},{"x":1.04,"y":1.07},{"x":1.25,"y":0.83},{"x":1.20,"y":1.01},{"x":1.01,"y":0.76},{"x":1.32,"y":1.22},{"x":1.12,"y":0.89},{"x":1.40,"y":0.88},
{"x":1.06,"y":1.15},{"x":1.27,"y":1.01},{"x":1.16,"y":1.10},{"x":0.94,"y":1.08},{"x":1.28,"y":0.93},{"x":1.22,"y":0.78},{"x":1.43,"y":1.16},{"x":1.06,"y":0.88},{"x":1.35,"y":1.02},{"x":1.13,"y":1.18},
{"x":0.99,"y":1.24},{"x":1.24,"y":0.86},{"x":1.10,"y":1.00},{"x":1.31,"y":1.05},{"x":1.19,"y":0.82},{"x":1.03,"y":0.84},{"x":1.27,"y":1.22},
{"x":1.50,"y":0.90},{"x":1.52,"y":1.10},{"x":1.48,"y":0.78},{"x":1.51,"y":1.22},{"x":1.54,"y":0.95},{"x":1.49,"y":0.69},{"x":1.56,"y":1.03},{"x":1.53,"y":1.16},{"x":1.58,"y":0.82},{"x":1.50,"y":1.30},
{"x":1.47,"y":0.63},{"x":1.61,"y":1.01},{"x":1.57,"y":0.72},{"x":1.52,"y":1.42},{"x":1.63,"y":1.20},{"x":1.48,"y":1.05},{"x":1.49,"y":0.96},{"x":1.46,"y":1.27},{"x":1.47,"y":0.75},
{"x":0.88,"y":0.98},{"x":0.90,"y":1.18},{"x":0.89,"y":0.84},{"x":0.87,"y":1.05},{"x":0.91,"y":0.71},{"x":0.86,"y":1.14},{"x":0.90,"y":1.25},
{"x":0.98,"y":0.66},{"x":1.06,"y":0.63},{"x":1.13,"y":0.65},{"x":1.21,"y":0.63},{"x":1.28,"y":0.65},{"x":1.36,"y":0.64},{"x":1.01,"y":0.56},{"x":1.19,"y":0.54},{"x":1.35,"y":0.55},
{"x":1.01,"y":1.33},{"x":1.08,"y":1.35},{"x":1.16,"y":1.33},{"x":1.24,"y":1.36},{"x":1.33,"y":1.33},{"x":1.40,"y":1.30},{"x":1.12,"y":1.42},{"x":1.28,"y":1.44},{"x":0.95,"y":1.30},
{"x":0.85,"y":0.95},{"x":0.82,"y":1.10},{"x":0.87,"y":0.75},{"x":0.80,"y":0.88},{"x":0.84,"y":1.22},{"x":0.78,"y":1.00},{"x":0.86,"y":0.66},{"x":0.79,"y":1.14},{"x":0.83,"y":0.80},{"x":0.88,"y":1.30},
{"x":0.81,"y":0.70},{"x":0.76,"y":0.93},
{"x":1.52,"y":1.00},{"x":1.55,"y":0.86},{"x":1.50,"y":1.18},{"x":1.58,"y":1.08},{"x":1.53,"y":0.75},{"x":1.56,"y":1.25},{"x":1.51,"y":0.68},{"x":1.60,"y":0.95},{"x":1.54,"y":1.32},{"x":1.62,"y":1.14},
{"x":1.57,"y":0.80},{"x":1.64,"y":0.89},{"x":1.59,"y":1.20},{"x":1.52,"y":0.62},{"x":1.66,"y":1.01},{"x":1.55,"y":1.38},
{"x":0.95,"y":0.60},{"x":1.02,"y":0.58},{"x":1.10,"y":0.55},{"x":1.18,"y":0.60},{"x":1.26,"y":0.57},{"x":1.33,"y":0.61},{"x":1.40,"y":0.62},{"x":1.05,"y":0.50},{"x":1.15,"y":0.48},{"x":1.24,"y":0.52},
{"x":1.30,"y":0.47},{"x":1.45,"y":0.66},
{"x":0.98,"y":1.38},{"x":1.06,"y":1.40},{"x":1.14,"y":1.36},{"x":1.22,"y":1.42},{"x":1.30,"y":1.38},{"x":1.38,"y":1.35},{"x":1.02,"y":1.45},{"x":1.18,"y":1.47},{"x":1.27,"y":1.50},{"x":1.10,"y":1.52},
{"x":1.35,"y":1.44},{"x":0.92,"y":1.33},
{"x":2.07,"y":0.95},{"x":1.98,"y":1.17},{"x":1.93,"y":1.22},{"x":1.94,"y":0.87},{"x":1.94,"y":0.84},{"x":1.91,"y":0.93},{"x":1.88,"y":0.93},{"x":1.89,"y":0.60},{"x":1.85,"y":0.38},{"x":1.86,"y":1.07},
{"x":1.89,"y":1.07},{"x":1.80,"y":0.71},{"x":1.75,"y":1.29},{"x":1.74,"y":1.19},{"x":1.74,"y":1.11},{"x":1.76,"y":0.75},{"x":1.70,"y":0.69},{"x":1.70,"y":0.61},{"x":1.74,"y":0.85},{"x":1.67,"y":1.41},
{"x":1.62,"y":1.37},{"x":1.59,"y":1.45},{"x":1.48,"y":1.46},{"x":1.45,"y":1.47},{"x":1.75,"y":0.23},{"x":1.46,"y":0.39},{"x":1.44,"y":0.40},{"x":1.31,"y":0.46},{"x":1.33,"y":0.47},{"x":1.16,"y":0.44},
{"x":0.85,"y":0.54},{"x":0.86,"y":0.56},{"x":0.68,"y":0.80},{"x":0.71,"y":1.12},{"x":0.79,"y":1.21},{"x":0.86,"y":1.30},{"x":1.11,"y":1.53},{"x":1.23,"y":1.47},{"x":1.32,"y":1.52},{"x":1.68,"y":1.15},
{"x":1.65,"y":0.78},{"x":1.71,"y":0.98},{"x":1.60,"y":0.70}
 ],
 "pc":[
{"x":1.07,"y":1.01},{"x":1.02,"y":0.95},{"x":1.12,"y":1.06},{"x":0.98,"y":1.08},{"x":1.15,"y":0.92},{"x":1.05,"y":1.14},{"x":0.95,"y":0.97},{"x":1.10,"y":0.86},{"x":1.19,"y":1.03},{"x":1.01,"y":1.20},
{"x":1.08,"y":0.91},{"x":0.93,"y":1.05},{"x":1.14,"y":1.17},{"x":1.04,"y":0.83},{"x":1.22,"y":0.97},{"x":0.99,"y":0.89},{"x":1.11,"y":1.23},{"x":1.06,"y":0.98},{"x":0.96,"y":1.16},{"x":1.17,"y":0.85},
{"x":1.03,"y":1.03},{"x":1.20,"y":1.12},{"x":0.92,"y":0.92},{"x":1.09,"y":1.09},{"x":1.13,"y":0.79},{"x":1.00,"y":1.12},{"x":1.25,"y":1.05},{"x":1.05,"y":0.88},{"x":0.97,"y":1.24},{"x":1.16,"y":0.99},
{"x":1.02,"y":1.07},{"x":1.08,"y":0.78},{"x":0.94,"y":0.86},{"x":1.21,"y":1.19},{"x":1.11,"y":0.94},{"x":0.99,"y":1.00},{"x":1.06,"y":1.27},{"x":1.18,"y":0.90},{"x":1.03,"y":0.91},{"x":0.91,"y":1.10},
{"x":1.14,"y":1.08},{"x":1.07,"y":0.84},{"x":1.23,"y":0.88},{"x":1.00,"y":1.17},{"x":1.10,"y":1.02},{"x":0.95,"y":0.81},{"x":1.16,"y":1.24},{"x":1.04,"y":1.11},{"x":1.27,"y":0.99},{"x":0.98,"y":0.94},
{"x":1.12,"y":0.87},{"x":1.06,"y":1.19},{"x":0.90,"y":0.99},{"x":1.19,"y":0.82},{"x":1.01,"y":0.85},{"x":1.15,"y":1.13},{"x":1.08,"y":1.05},{"x":0.96,"y":1.09},{"x":1.24,"y":1.16},{"x":1.03,"y":0.77},
{"x":1.13,"y":0.97},{"x":0.93,"y":1.19},{"x":1.09,"y":1.16},{"x":1.20,"y":0.93},{"x":1.05,"y":1.01},{"x":0.97,"y":0.84},{"x":1.17,"y":1.07},{"x":1.02,"y":1.25},{"x":1.28,"y":0.91},{"x":1.10,"y":0.80},
{"x":0.99,"y":1.05},{"x":1.14,"y":1.22},{"x":1.06,"y":0.93},{"x":0.92,"y":0.90},{"x":1.22,"y":1.09},{"x":1.04,"y":1.17},{"x":1.11,"y":0.89},{"x":0.95,"y":1.13},{"x":1.18,"y":0.96},{"x":1.07,"y":1.21},
{"x":1.01,"y":0.98},{"x":1.26,"y":1.13},{"x":0.94,"y":0.95},{"x":1.12,"y":1.11},{"x":1.08,"y":0.75},{"x":1.16,"y":0.88},{"x":0.98,"y":1.18},{"x":1.03,"y":1.06},{"x":1.21,"y":1.01},{"x":1.09,"y":0.96},
{"x":0.90,"y":1.07},{"x":1.14,"y":0.83},{"x":1.05,"y":1.26},{"x":1.30,"y":1.04},{"x":0.97,"y":0.78},{"x":1.19,"y":1.16},{"x":1.02,"y":0.88},{"x":1.11,"y":1.04},{"x":0.96,"y":1.02},{"x":1.23,"y":0.84},
{"x":1.07,"y":1.10},{"x":1.00,"y":0.80},{"x":1.15,"y":1.19},{"x":0.93,"y":1.12},{"x":1.10,"y":0.92},{"x":1.25,"y":0.95},{"x":1.04,"y":0.97},{"x":0.99,"y":1.22},{"x":1.17,"y":1.02},{"x":1.06,"y":0.81},
{"x":1.13,"y":1.14},{"x":0.91,"y":0.96},{"x":1.20,"y":1.23},{"x":1.02,"y":1.14},{"x":1.09,"y":0.87},{"x":1.27,"y":1.08},{"x":0.95,"y":0.89},{"x":1.12,"y":1.00},{"x":1.05,"y":0.92},{"x":1.18,"y":0.79},
{"x":0.98,"y":1.11},{"x":1.08,"y":1.24},{"x":1.22,"y":0.90},{"x":1.01,"y":1.04},{"x":1.15,"y":0.94},{"x":0.94,"y":1.15},{"x":1.11,"y":1.18},{"x":1.04,"y":0.86},{"x":1.29,"y":0.97},{"x":0.97,"y":1.01},
{"x":1.16,"y":1.10},{"x":1.07,"y":0.89},{"x":1.00,"y":1.27},{"x":1.24,"y":1.02},{"x":1.13,"y":0.76},{"x":0.92,"y":1.02},{"x":1.10,"y":1.13},{"x":1.19,"y":0.87},{"x":1.03,"y":0.94},{"x":0.96,"y":1.20},
{"x":1.21,"y":1.14},{"x":1.06,"y":1.06},{"x":1.14,"y":0.90},{"x":0.99,"y":0.83},{"x":1.26,"y":1.20},{"x":1.08,"y":1.00},{"x":1.02,"y":1.19},{"x":1.17,"y":0.93},{"x":0.93,"y":0.83},{"x":1.12,"y":1.26},
{"x":1.05,"y":0.79},{"x":1.23,"y":1.06},{"x":1.00,"y":1.09},{"x":1.15,"y":1.03},{"x":0.95,"y":1.07},{"x":1.09,"y":1.20},{"x":1.20,"y":0.85},{"x":1.04,"y":1.02},{"x":1.31,"y":1.10},{"x":0.98,"y":0.87},
{"x":1.11,"y":0.97},{"x":1.07,"y":1.15},{"x":1.18,"y":1.21},{"x":0.90,"y":1.13},{"x":1.14,"y":0.86},{"x":1.03,"y":1.28},{"x":1.25,"y":0.88},{"x":1.01,"y":0.91},{"x":1.09,"y":1.07},{"x":0.97,"y":0.96},
{"x":1.16,"y":1.16},{"x":1.06,"y":0.85},{"x":1.22,"y":1.00},{"x":0.94,"y":1.23},{"x":1.13,"y":1.09},{"x":1.05,"y":1.11},{"x":1.28,"y":1.15},{"x":1.10,"y":0.83},{"x":0.99,"y":1.14},{"x":1.19,"y":0.99},
{"x":1.02,"y":0.82},{"x":1.15,"y":1.25},{"x":0.96,"y":0.93},{"x":1.08,"y":0.93},{"x":1.24,"y":1.11},{"x":1.04,"y":1.22},{"x":1.12,"y":0.81},{"x":0.92,"y":0.98},{"x":1.20,"y":1.05},{"x":1.07,"y":1.04},
{"x":1.01,"y":1.16},{"x":1.17,"y":0.81},{"x":1.11,"y":1.15},{"x":0.95,"y":1.04},{"x":1.26,"y":0.93},{"x":1.06,"y":1.16},{"x":1.13,"y":1.02},{"x":0.98,"y":1.26},{"x":1.21,"y":0.95},{"x":1.03,"y":0.99},
{"x":1.06,"y":1.03},{"x":1.01,"y":0.97},{"x":1.11,"y":1.08},{"x":0.97,"y":1.06},{"x":1.14,"y":0.95},{"x":1.04,"y":1.12},{"x":0.96,"y":0.99},{"x":1.09,"y":0.88},{"x":1.18,"y":1.05},{"x":1.02,"y":1.18},
{"x":1.07,"y":0.94},{"x":0.94,"y":1.03},{"x":1.13,"y":1.15},{"x":1.05,"y":0.85},{"x":1.20,"y":0.99},{"x":1.00,"y":0.91},{"x":1.10,"y":1.21},{"x":1.05,"y":0.96},{"x":0.97,"y":1.14},{"x":1.16,"y":0.87},
{"x":1.04,"y":1.05},{"x":1.19,"y":1.10},{"x":0.93,"y":0.94},{"x":1.08,"y":1.11},{"x":1.12,"y":0.82},{"x":1.01,"y":1.10},{"x":1.23,"y":1.03},{"x":1.06,"y":0.90},{"x":0.98,"y":1.22},{"x":1.15,"y":1.01},
{"x":1.03,"y":1.09},{"x":1.09,"y":0.80},{"x":0.95,"y":0.88},{"x":1.20,"y":1.17},{"x":1.10,"y":0.96},{"x":1.00,"y":1.02},{"x":1.07,"y":1.25},{"x":1.17,"y":0.92},{"x":1.02,"y":0.93},{"x":0.92,"y":1.08},
{"x":1.13,"y":1.06},{"x":1.08,"y":0.86},{"x":1.22,"y":0.91},{"x":1.01,"y":1.15},{"x":1.11,"y":1.00},{"x":0.96,"y":0.83},{"x":1.15,"y":1.21},{"x":1.03,"y":1.13},{"x":1.25,"y":1.01},{"x":0.99,"y":0.96},
{"x":1.13,"y":0.89},{"x":1.07,"y":1.17},{"x":0.91,"y":1.01},{"x":1.18,"y":0.84},{"x":1.02,"y":0.87},{"x":1.14,"y":1.11},{"x":1.09,"y":1.03},{"x":0.97,"y":1.11},{"x":1.22,"y":1.14},{"x":1.04,"y":0.80},
{"x":1.12,"y":0.99},{"x":0.94,"y":1.17},{"x":1.10,"y":1.14},{"x":1.19,"y":0.95},{"x":1.06,"y":0.99},{"x":0.98,"y":0.86},{"x":1.16,"y":1.05},{"x":1.03,"y":1.23},{"x":1.26,"y":0.94},{"x":1.11,"y":0.82},
{"x":1.00,"y":1.07},{"x":1.13,"y":1.20},{"x":1.07,"y":0.95},{"x":0.93,"y":0.92},{"x":1.21,"y":1.07},{"x":1.05,"y":1.19},{"x":1.12,"y":0.91},{"x":0.96,"y":1.11},{"x":1.17,"y":0.98},{"x":1.08,"y":1.19},
{"x":1.02,"y":1.00},{"x":1.24,"y":1.12},{"x":0.95,"y":0.97},{"x":1.11,"y":1.13},{"x":1.09,"y":0.77},{"x":1.15,"y":0.90},{"x":0.99,"y":1.16},{"x":1.04,"y":1.08},{"x":1.20,"y":1.03},{"x":1.10,"y":0.98},
{"x":0.91,"y":1.05},{"x":1.13,"y":0.85},{"x":1.06,"y":1.24},{"x":1.28,"y":1.06},{"x":0.98,"y":0.80},{"x":1.18,"y":1.14},{"x":1.03,"y":0.90},{"x":1.12,"y":1.02},{"x":0.97,"y":1.04},{"x":1.22,"y":0.86},
{"x":1.08,"y":1.08},{"x":1.01,"y":0.82},{"x":1.16,"y":1.17},{"x":0.94,"y":1.10},{"x":1.11,"y":0.94},{"x":1.24,"y":0.97},{"x":1.05,"y":0.99},{"x":1.00,"y":1.20},{"x":1.16,"y":1.00},{"x":1.07,"y":0.83},
{"x":1.14,"y":1.12},{"x":0.92,"y":0.97},{"x":1.19,"y":1.21},{"x":1.03,"y":1.16},{"x":1.10,"y":0.89},{"x":1.25,"y":1.10},{"x":0.96,"y":0.91},{"x":1.13,"y":1.03},{"x":1.06,"y":0.93},{"x":1.17,"y":0.81},
{"x":0.99,"y":1.09},{"x":1.09,"y":1.22},
{"x":1.05,"y":1.04},{"x":1.00,"y":0.94},{"x":1.09,"y":1.10},{"x":0.96,"y":1.07},{"x":1.13,"y":0.93},{"x":1.03,"y":1.15},{"x":0.94,"y":1.00},{"x":1.08,"y":0.85},{"x":1.17,"y":1.06},{"x":1.01,"y":1.22},
{"x":1.06,"y":0.96},{"x":0.92,"y":1.06},{"x":1.12,"y":1.19},{"x":1.03,"y":0.81},{"x":1.21,"y":0.99},{"x":0.98,"y":0.91},{"x":1.10,"y":1.25},{"x":1.07,"y":0.99},{"x":0.95,"y":1.18},{"x":1.16,"y":0.83},
{"x":1.02,"y":1.04},{"x":1.19,"y":1.13},{"x":0.93,"y":0.89},{"x":1.10,"y":1.07},{"x":1.14,"y":0.78},{"x":0.99,"y":1.13},{"x":1.23,"y":1.07},{"x":1.04,"y":0.89},{"x":0.96,"y":1.25},{"x":1.15,"y":0.97},
{"x":1.01,"y":1.06},{"x":1.07,"y":0.79},{"x":0.95,"y":0.85},{"x":1.22,"y":1.17},{"x":1.12,"y":0.95},{"x":0.98,"y":1.01},{"x":1.05,"y":1.28},{"x":1.17,"y":0.89},{"x":1.04,"y":0.92},{"x":0.92,"y":1.11},
{"x":1.15,"y":1.09},{"x":1.06,"y":0.86},{"x":1.24,"y":0.90},{"x":0.99,"y":1.18},{"x":1.11,"y":1.03},{"x":0.97,"y":0.80},{"x":1.17,"y":1.23},{"x":1.05,"y":1.10},{"x":1.26,"y":1.00},{"x":0.97,"y":0.93},
{"x":1.11,"y":0.86},{"x":1.05,"y":1.20},{"x":0.91,"y":0.98},{"x":1.20,"y":0.84},{"x":1.00,"y":0.86},{"x":1.16,"y":1.14},{"x":1.09,"y":1.04},{"x":0.95,"y":1.10},{"x":1.23,"y":1.15},{"x":1.02,"y":0.78},
{"x":1.14,"y":0.98},{"x":0.94,"y":1.20},{"x":1.08,"y":1.17},{"x":1.21,"y":0.94},{"x":1.04,"y":1.00},{"x":0.98,"y":0.83},{"x":1.18,"y":1.08},{"x":1.03,"y":1.26},{"x":1.27,"y":0.92},{"x":1.09,"y":0.81},
{"x":1.00,"y":1.04},{"x":1.15,"y":1.23},{"x":1.07,"y":0.92},{"x":0.93,"y":0.91},{"x":1.23,"y":1.10},{"x":1.05,"y":1.16},{"x":1.10,"y":0.88},{"x":0.94,"y":1.14},{"x":1.19,"y":0.97},{"x":1.06,"y":1.22},
{"x":1.02,"y":0.97},{"x":1.25,"y":1.14},{"x":0.95,"y":0.94},{"x":1.13,"y":1.12},{"x":1.07,"y":0.76},{"x":1.17,"y":0.88},{"x":0.99,"y":1.19},{"x":1.02,"y":1.07},{"x":1.22,"y":1.02},{"x":1.08,"y":0.97},
{"x":0.91,"y":1.08},{"x":1.15,"y":0.82},{"x":1.04,"y":1.25},{"x":1.29,"y":1.03},{"x":0.96,"y":0.79},{"x":1.20,"y":1.15},{"x":1.01,"y":0.89},{"x":1.12,"y":1.05},{"x":0.97,"y":1.03},{"x":1.24,"y":0.85},
{"x":0.89,"y":1.04},{"x":0.90,"y":0.92},{"x":0.88,"y":1.16},{"x":1.30,"y":0.85},{"x":1.32,"y":1.13},{"x":1.28,"y":1.20},{"x":1.27,"y":0.80},{"x":0.98,"y":0.74},{"x":1.10,"y":0.73},{"x":1.19,"y":0.75},
{"x":1.05,"y":1.30},{"x":1.16,"y":1.30},{"x":0.94,"y":1.26},
{"x":0.86,"y":1.02},{"x":0.88,"y":0.90},{"x":0.85,"y":1.15},{"x":0.87,"y":0.80},{"x":0.84,"y":0.95},{"x":0.89,"y":1.22},{"x":0.88,"y":0.74},{"x":0.83,"y":1.08},
{"x":1.33,"y":1.00},{"x":1.35,"y":0.90},{"x":1.32,"y":1.18},{"x":1.36,"y":1.08},{"x":1.34,"y":0.80},{"x":1.38,"y":0.95},{"x":1.37,"y":1.22},{"x":1.31,"y":0.76},{"x":1.40,"y":1.02},{"x":1.42,"y":1.14},
{"x":1.39,"y":0.85},{"x":1.33,"y":1.27},{"x":1.44,"y":0.98},{"x":1.41,"y":1.25},{"x":1.46,"y":1.06},{"x":1.30,"y":0.72},
{"x":0.95,"y":0.72},{"x":1.02,"y":0.70},{"x":1.09,"y":0.68},{"x":1.16,"y":0.71},{"x":1.23,"y":0.74},{"x":1.00,"y":0.66},{"x":1.12,"y":0.64},{"x":1.20,"y":0.67},{"x":0.92,"y":0.75},{"x":1.27,"y":0.78},
{"x":0.96,"y":1.29},{"x":1.04,"y":1.32},{"x":1.10,"y":1.30},{"x":1.17,"y":1.29},{"x":1.24,"y":1.27},{"x":1.00,"y":1.35},{"x":1.13,"y":1.34},{"x":1.21,"y":1.31},{"x":0.92,"y":1.27},{"x":1.29,"y":1.24},
{"x":1.52,"y":1.17},{"x":1.53,"y":1.05},{"x":1.54,"y":1.00},{"x":0.76,"y":0.82},{"x":1.29,"y":0.60},{"x":1.12,"y":0.58},{"x":1.12,"y":0.62},{"x":1.06,"y":1.35},{"x":1.31,"y":1.36},{"x":1.31,"y":1.33},
{"x":1.40,"y":1.30},{"x":1.35,"y":1.26},{"x":1.42,"y":0.70},{"x":1.38,"y":0.70},{"x":1.36,"y":0.76},{"x":0.96,"y":1.33},{"x":0.90,"y":1.28},{"x":1.47,"y":1.15},{"x":1.48,"y":0.87},{"x":1.45,"y":0.80},
{"x":0.82,"y":0.88},{"x":0.80,"y":1.00},{"x":1.18,"y":0.62},{"x":1.06,"y":0.62},{"x":1.50,"y":1.10}
 ]
},
"hconcat":[
 {
  "width":308,"height":308,
  "title":{"text":"(a) T wave 1"},
  "encoding":{
   "x":{"field":"x","type":"quantitative","scale":{"domain":[0,2.5],"nice":false},"axis":{"values":[0,0.5,1,1.5,2,2.5],"labelExpr":"datum.value == 0 ? '0' : format(datum.value, '.1f')","title":"Distance orthogonal to analysis error"}},
   "y":{"field":"y","type":"quantitative","scale":{"domain":[0,2.5],"nice":false},"axis":{"values":[0,0.5,1,1.5,2,2.5],"labelExpr":"datum.value == 0 ? '0' : format(datum.value, '.1f')","title":"Distance along analysis error"}}
  },
  "layer":[
   {"data":{"name":"guides"},"transform":[{"filter":"datum.kind == 'diagonal'"}],"mark":{"type":"rule","color":"#cfcfcf","strokeWidth":1.2,"strokeDash":[8,6]},"encoding":{"x2":{"field":"x2"},"y2":{"field":"y2"}}},
   {"data":{"name":"guides"},"transform":[{"filter":"datum.kind == 'circle'"}],"mark":{"type":"arc","color":"#8a8a8a","theta":0,"theta2":1.5708},"encoding":{"radius":{"field":"r","type":"quantitative","scale":{"type":"linear","domain":[0,2.5],"range":[0,308],"zero":true}},"radius2":{"field":"r2"}}},
   {"data":{"name":"bounds"},"transform":[{"filter":"datum.panel == 'a'"}],"mark":{"type":"rule","strokeWidth":2,"strokeDash":[9,5]},"encoding":{"x2":{"field":"x2"},"y2":{"field":"y2"},"color":{"field":"wave","type":"nominal","scale":{"domain":["wave 1","wave 30","wave 180"],"range":["#ee2020","#f5a31a","#22e022"]},"legend":null}}},
   {"data":{"name":"pa"},"mark":{"type":"circle","size":12,"color":"#000000","opacity":1},"encoding":{}},
   {"data":{"name":"stars"},"transform":[{"filter":"datum.panel == 'a'"}],"mark":{"type":"point","shape":"M0,-1L0.2245,-0.309L0.951,-0.309L0.363,0.118L0.588,0.809L0,0.382L-0.588,0.809L-0.363,0.118L-0.951,-0.309L-0.2245,-0.309Z","size":210,"filled":false,"strokeWidth":1.6,"opacity":1},"encoding":{"color":{"field":"wave","type":"nominal","scale":{"domain":["wave 1","wave 30","wave 180"],"range":["#ee2020","#f5a31a","#22e022"]},"legend":null}}}
  ]
 },
 {
  "width":308,"height":308,
  "title":{"text":"(b) T wave 30"},
  "encoding":{
   "x":{"field":"x","type":"quantitative","scale":{"domain":[0,2.5],"nice":false},"axis":{"values":[0,0.5,1,1.5,2,2.5],"labelExpr":"datum.value == 0 ? '0' : format(datum.value, '.1f')","title":"Distance orthogonal to analysis error"}},
   "y":{"field":"y","type":"quantitative","scale":{"domain":[0,2.5],"nice":false},"axis":{"values":[0,0.5,1,1.5,2,2.5],"labelExpr":"datum.value == 0 ? '0' : format(datum.value, '.1f')","title":"Distance along analysis error"}}
  },
  "layer":[
   {"data":{"name":"guides"},"transform":[{"filter":"datum.kind == 'diagonal'"}],"mark":{"type":"rule","color":"#cfcfcf","strokeWidth":1.2,"strokeDash":[8,6]},"encoding":{"x2":{"field":"x2"},"y2":{"field":"y2"}}},
   {"data":{"name":"guides"},"transform":[{"filter":"datum.kind == 'circle'"}],"mark":{"type":"arc","color":"#8a8a8a","theta":0,"theta2":1.5708},"encoding":{"radius":{"field":"r","type":"quantitative","scale":{"type":"linear","domain":[0,2.5],"range":[0,308],"zero":true}},"radius2":{"field":"r2"}}},
   {"data":{"name":"bounds"},"transform":[{"filter":"datum.panel == 'b'"}],"mark":{"type":"rule","strokeWidth":2,"strokeDash":[9,5]},"encoding":{"x2":{"field":"x2"},"y2":{"field":"y2"},"color":{"field":"wave","type":"nominal","scale":{"domain":["wave 1","wave 30","wave 180"],"range":["#ee2020","#f5a31a","#22e022"]},"legend":null}}},
   {"data":{"name":"pb"},"mark":{"type":"circle","size":12,"color":"#000000","opacity":1},"encoding":{}},
   {"data":{"name":"stars"},"transform":[{"filter":"datum.panel == 'b'"}],"mark":{"type":"point","shape":"M0,-1L0.2245,-0.309L0.951,-0.309L0.363,0.118L0.588,0.809L0,0.382L-0.588,0.809L-0.363,0.118L-0.951,-0.309L-0.2245,-0.309Z","size":210,"filled":false,"strokeWidth":1.6,"opacity":1},"encoding":{"color":{"field":"wave","type":"nominal","scale":{"domain":["wave 1","wave 30","wave 180"],"range":["#ee2020","#f5a31a","#22e022"]},"legend":null}}}
  ]
 },
 {
  "width":308,"height":308,
  "title":{"text":"(c) T wave 180"},
  "encoding":{
   "x":{"field":"x","type":"quantitative","scale":{"domain":[0,2.5],"nice":false},"axis":{"values":[0,0.5,1,1.5,2,2.5],"labelExpr":"datum.value == 0 ? '0' : format(datum.value, '.1f')","title":"Distance orthogonal to analysis error"}},
   "y":{"field":"y","type":"quantitative","scale":{"domain":[0,2.5],"nice":false},"axis":{"values":[0,0.5,1,1.5,2,2.5],"labelExpr":"datum.value == 0 ? '0' : format(datum.value, '.1f')","title":"Distance along analysis error"}}
  },
  "layer":[
   {"data":{"name":"guides"},"transform":[{"filter":"datum.kind == 'diagonal'"}],"mark":{"type":"rule","color":"#cfcfcf","strokeWidth":1.2,"strokeDash":[8,6]},"encoding":{"x2":{"field":"x2"},"y2":{"field":"y2"}}},
   {"data":{"name":"guides"},"transform":[{"filter":"datum.kind == 'circle'"}],"mark":{"type":"arc","color":"#8a8a8a","theta":0,"theta2":1.5708},"encoding":{"radius":{"field":"r","type":"quantitative","scale":{"type":"linear","domain":[0,2.5],"range":[0,308],"zero":true}},"radius2":{"field":"r2"}}},
   {"data":{"name":"bounds"},"transform":[{"filter":"datum.panel == 'c'"}],"mark":{"type":"rule","strokeWidth":2,"strokeDash":[9,5]},"encoding":{"x2":{"field":"x2"},"y2":{"field":"y2"},"color":{"field":"wave","type":"nominal","scale":{"domain":["wave 1","wave 30","wave 180"],"range":["#ee2020","#f5a31a","#22e022"]},"legend":null}}},
   {"data":{"name":"pc"},"mark":{"type":"circle","size":12,"color":"#000000","opacity":1},"encoding":{}},
   {"data":{"name":"stars"},"transform":[{"filter":"datum.panel == 'c'"}],"mark":{"type":"point","shape":"M0,-1L0.2245,-0.309L0.951,-0.309L0.363,0.118L0.588,0.809L0,0.382L-0.588,0.809L-0.363,0.118L-0.951,-0.309L-0.2245,-0.309Z","size":210,"filled":false,"strokeWidth":1.6,"opacity":1},"encoding":{"color":{"field":"wave","type":"nominal","scale":{"domain":["wave 1","wave 30","wave 180"],"range":["#ee2020","#f5a31a","#22e022"]},"legend":null}}}
  ]
 }
]
}
